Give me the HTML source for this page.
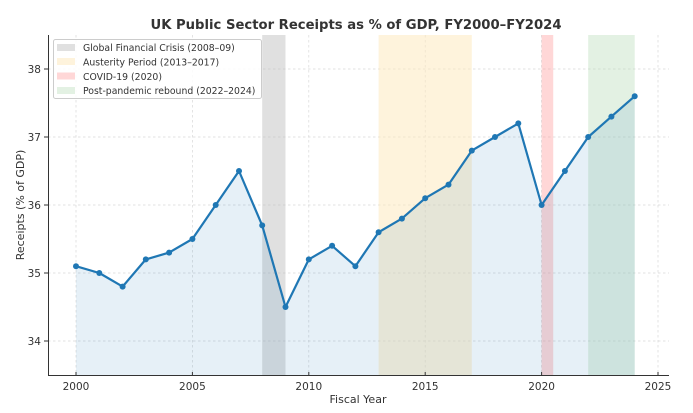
<!DOCTYPE html>
<html><head><meta charset="utf-8"><style>
html,body{margin:0;padding:0;background:#fff;}
svg{display:block;font-family:"DejaVu Sans","Liberation Sans",sans-serif;}
</style></head><body>
<svg width="693" height="413" viewBox="0 0 693 413" xmlns="http://www.w3.org/2000/svg">
<rect width="693" height="413" fill="#fff"/>
<text x="356" y="29" text-anchor="middle" font-size="13.2" font-weight="bold" fill="#333">UK Public Sector Receipts as % of GDP, FY2000–FY2024</text>
<g stroke="#d8d8d8" stroke-width="0.7" stroke-dasharray="2.5,2.5">
<line x1="76" y1="35" x2="76" y2="376"/><line x1="192.4" y1="35" x2="192.4" y2="376"/><line x1="308.8" y1="35" x2="308.8" y2="376"/><line x1="425.2" y1="35" x2="425.2" y2="376"/><line x1="541.6" y1="35" x2="541.6" y2="376"/><line x1="658" y1="35" x2="658" y2="376"/>
<line x1="48" y1="69" x2="669" y2="69"/><line x1="48" y1="137" x2="669" y2="137"/><line x1="48" y1="205" x2="669" y2="205"/><line x1="48" y1="273" x2="669" y2="273"/><line x1="48" y1="341" x2="669" y2="341"/>
</g>
<rect x="262.2" y="35" width="23.3" height="341" fill="#bbb" opacity="0.45"/>
<rect x="378.6" y="35" width="93.2" height="341" fill="#fde9c0" opacity="0.55"/>
<rect x="541.6" y="35" width="11.6" height="341" fill="#ff9a9a" opacity="0.4"/>
<rect x="588.2" y="35" width="46.5" height="341" fill="#b9dcb9" opacity="0.4"/>
<polygon fill="#1f77b4" opacity="0.11" points="76,376 76,266.2 99.3,273 122.6,286.6 145.8,259.4 169.1,252.6 192.4,239 215.7,205 239,171 262.2,225.4 285.5,307 308.8,259.4 332.1,245.8 355.4,266.2 378.6,232.2 401.9,218.6 425.2,198.2 448.5,184.6 471.8,150.6 495,137 518.3,123.4 541.6,205 564.9,171 588.2,137 611.4,116.6 634.7,96.2 634.7,376"/>
<polyline fill="none" stroke="#1f77b4" stroke-width="2.2" stroke-linejoin="round" points="76,266.2 99.3,273 122.6,286.6 145.8,259.4 169.1,252.6 192.4,239 215.7,205 239,171 262.2,225.4 285.5,307 308.8,259.4 332.1,245.8 355.4,266.2 378.6,232.2 401.9,218.6 425.2,198.2 448.5,184.6 471.8,150.6 495,137 518.3,123.4 541.6,205 564.9,171 588.2,137 611.4,116.6 634.7,96.2"/>
<g fill="#1f77b4">
<circle cx="76" cy="266.2" r="3"/><circle cx="99.3" cy="273" r="3"/><circle cx="122.6" cy="286.6" r="3"/><circle cx="145.8" cy="259.4" r="3"/><circle cx="169.1" cy="252.6" r="3"/><circle cx="192.4" cy="239" r="3"/><circle cx="215.7" cy="205" r="3"/><circle cx="239" cy="171" r="3"/><circle cx="262.2" cy="225.4" r="3"/><circle cx="285.5" cy="307" r="3"/><circle cx="308.8" cy="259.4" r="3"/><circle cx="332.1" cy="245.8" r="3"/><circle cx="355.4" cy="266.2" r="3"/><circle cx="378.6" cy="232.2" r="3"/><circle cx="401.9" cy="218.6" r="3"/><circle cx="425.2" cy="198.2" r="3"/><circle cx="448.5" cy="184.6" r="3"/><circle cx="471.8" cy="150.6" r="3"/><circle cx="495" cy="137" r="3"/><circle cx="518.3" cy="123.4" r="3"/><circle cx="541.6" cy="205" r="3"/><circle cx="564.9" cy="171" r="3"/><circle cx="588.2" cy="137" r="3"/><circle cx="611.4" cy="116.6" r="3"/><circle cx="634.7" cy="96.2" r="3"/>
</g>
<line x1="48.5" y1="35" x2="48.5" y2="376" stroke="#333" stroke-width="1"/>
<line x1="48" y1="375.5" x2="669" y2="375.5" stroke="#333" stroke-width="1"/>
<g stroke="#333" stroke-width="1">
<line x1="76" y1="376" x2="76" y2="372"/><line x1="192.4" y1="376" x2="192.4" y2="372"/><line x1="308.8" y1="376" x2="308.8" y2="372"/><line x1="425.2" y1="376" x2="425.2" y2="372"/><line x1="541.6" y1="376" x2="541.6" y2="372"/><line x1="658" y1="376" x2="658" y2="372"/>
<line x1="44" y1="69" x2="48" y2="69"/><line x1="44" y1="137" x2="48" y2="137"/><line x1="44" y1="205" x2="48" y2="205"/><line x1="44" y1="273" x2="48" y2="273"/><line x1="44" y1="341" x2="48" y2="341"/>
</g>
<g font-size="10.5" fill="#333" text-anchor="middle">
<text x="76" y="390">2000</text><text x="192.4" y="390">2005</text><text x="308.8" y="390">2010</text><text x="425.2" y="390">2015</text><text x="541.6" y="390">2020</text><text x="658" y="390">2025</text>
</g>
<g font-size="10.5" fill="#333" text-anchor="end">
<text x="41" y="73">38</text><text x="41" y="141">37</text><text x="41" y="209">36</text><text x="41" y="277">35</text><text x="41" y="345">34</text>
</g>
<text x="358" y="403" text-anchor="middle" font-size="11" fill="#333">Fiscal Year</text>
<text transform="translate(24,205) rotate(-90)" text-anchor="middle" font-size="11" fill="#333">Receipts (% of GDP)</text>
<rect x="53.5" y="39.5" width="208" height="59" rx="2" fill="#fff" fill-opacity="0.85" stroke="#ccc"/>
<rect x="57" y="44" width="18" height="7" fill="#bbb" opacity="0.45"/>
<rect x="57" y="58" width="18" height="7" fill="#fde9c0" opacity="0.55"/>
<rect x="57" y="72.5" width="18" height="7" fill="#ff9a9a" opacity="0.4"/>
<rect x="57" y="87" width="18" height="7" fill="#b9dcb9" opacity="0.4"/>
<g font-size="9.3" fill="#333">
<text x="83" y="51">Global Financial Crisis (2008–09)</text>
<text x="83" y="65.5">Austerity Period (2013–2017)</text>
<text x="83" y="80">COVID-19 (2020)</text>
<text x="83" y="94">Post-pandemic rebound (2022–2024)</text>
</g>
</svg>
</body></html>
